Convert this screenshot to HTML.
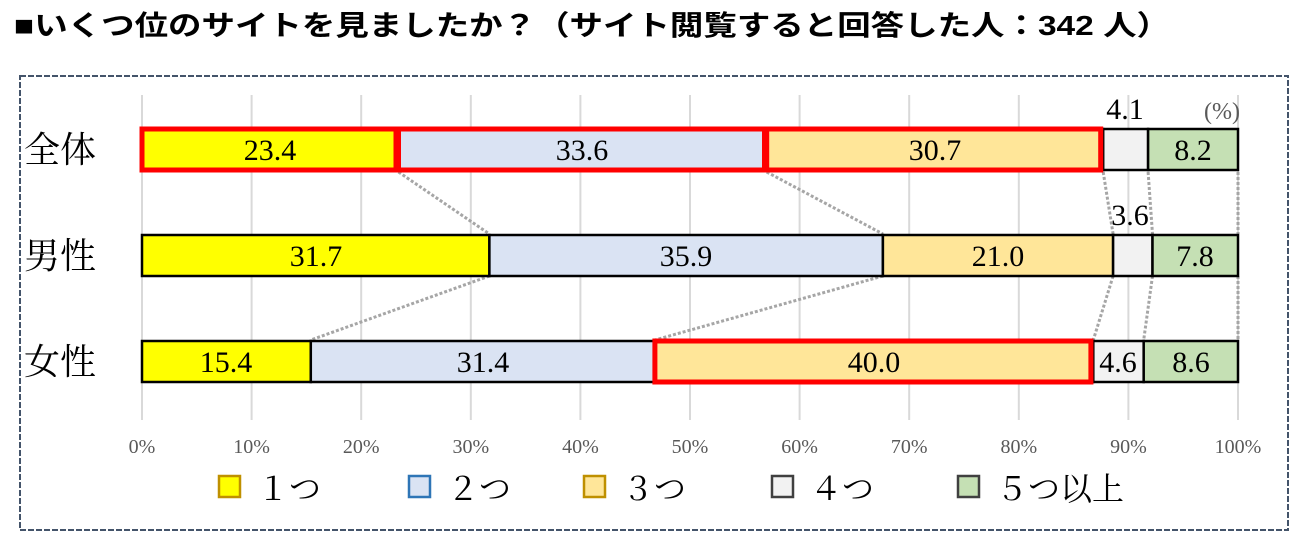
<!DOCTYPE html>
<html><head><meta charset="utf-8"><style>
body{margin:0;background:#fff;}
svg text{font-family:"Liberation Serif","Noto Serif CJK SC",serif;}
</style></head><body>
<svg width="1314" height="553" xmlns="http://www.w3.org/2000/svg">
<text x="14" y="35" font-size="28" font-weight="bold" textLength="1156" lengthAdjust="spacingAndGlyphs" style="font-family:'Liberation Sans','Noto Sans CJK JP',sans-serif">■いくつ位のサイトを見ましたか？（サイト閲覧すると回答した人：342 人）</text>
<rect x="20" y="76" width="1268" height="454" fill="none" stroke="#44546a" stroke-width="2" stroke-dasharray="6,2"/>
<g stroke="#d9d9d9" stroke-width="2">
<line x1="142" y1="95" x2="142" y2="420"/><line x1="251.6" y1="95" x2="251.6" y2="420"/><line x1="361.2" y1="95" x2="361.2" y2="420"/><line x1="470.8" y1="95" x2="470.8" y2="420"/><line x1="580.4" y1="95" x2="580.4" y2="420"/><line x1="690" y1="95" x2="690" y2="420"/><line x1="799.6" y1="95" x2="799.6" y2="420"/><line x1="909.2" y1="95" x2="909.2" y2="420"/><line x1="1018.8" y1="95" x2="1018.8" y2="420"/><line x1="1128.4" y1="95" x2="1128.4" y2="420"/><line x1="1238" y1="95" x2="1238" y2="420"/>
</g>
<g stroke="#a6a6a6" stroke-width="3" stroke-dasharray="3,2" fill="none">
<line x1="398.5" y1="172" x2="489.4" y2="234"/><line x1="766.7" y1="172" x2="882.9" y2="234"/><line x1="1103.2" y1="172" x2="1113.1" y2="234"/><line x1="1148.1" y1="172" x2="1152.5" y2="234"/><line x1="1238" y1="172" x2="1238" y2="234"/>
<line x1="489.4" y1="276" x2="310.8" y2="340"/><line x1="882.9" y1="276" x2="654.9" y2="340"/><line x1="1113.1" y1="276" x2="1093.3" y2="340"/><line x1="1152.5" y1="276" x2="1143.7" y2="340"/><line x1="1238" y1="276" x2="1238" y2="340"/>
</g>
<g stroke="#000" stroke-width="2.5">
<rect x="142" y="129" width="256.5" height="41" fill="#ffff00"/>
<rect x="398.5" y="129" width="368.2" height="41" fill="#dae3f3"/>
<rect x="766.7" y="129" width="336.5" height="41" fill="#ffe699"/>
<rect x="1103.2" y="129" width="44.9" height="41" fill="#f2f2f2"/>
<rect x="1148.1" y="129" width="89.9" height="41" fill="#c5e0b4"/>
<rect x="142" y="235" width="347.4" height="41" fill="#ffff00"/>
<rect x="489.4" y="235" width="393.5" height="41" fill="#dae3f3"/>
<rect x="882.9" y="235" width="230.2" height="41" fill="#ffe699"/>
<rect x="1113.1" y="235" width="39.4" height="41" fill="#f2f2f2"/>
<rect x="1152.5" y="235" width="85.5" height="41" fill="#c5e0b4"/>
<rect x="142" y="341" width="168.8" height="41" fill="#ffff00"/>
<rect x="310.8" y="341" width="344.1" height="41" fill="#dae3f3"/>
<rect x="654.9" y="341" width="438.4" height="41" fill="#ffe699"/>
<rect x="1093.3" y="341" width="50.4" height="41" fill="#f2f2f2"/>
<rect x="1143.7" y="341" width="94.3" height="41" fill="#c5e0b4"/>
</g>
<g stroke="#ff0000" stroke-width="5" fill="none">
<rect x="142" y="129" width="254" height="41"/>
<rect x="398.5" y="129" width="366" height="41"/>
<rect x="766.7" y="129" width="334" height="41"/>
<rect x="654.9" y="341" width="436" height="41"/>
</g>
<g font-size="30" text-anchor="middle">
<text x="270" y="160">23.4</text><text x="582" y="160">33.6</text><text x="935" y="160">30.7</text><text x="1125" y="119">4.1</text><text x="1193" y="160">8.2</text>
<text x="316" y="266">31.7</text><text x="686" y="266">35.9</text><text x="998" y="266">21.0</text><text x="1130" y="225">3.6</text><text x="1195" y="266">7.8</text>
<text x="226" y="372">15.4</text><text x="483" y="372">31.4</text><text x="874" y="372">40.0</text><text x="1118" y="372">4.6</text><text x="1191" y="372">8.6</text>
</g>
<text x="1222" y="119" font-size="24" fill="#595959" text-anchor="middle">(%)</text>
<g font-size="36"><text x="24" y="162">全体</text><text x="24" y="268">男性</text><text x="24" y="374">女性</text></g>
<g font-size="20" fill="#595959" text-anchor="middle">
<text x="142" y="453">0%</text><text x="251.6" y="453">10%</text><text x="361.2" y="453">20%</text><text x="470.8" y="453">30%</text><text x="580.4" y="453">40%</text><text x="690" y="453">50%</text><text x="799.6" y="453">60%</text><text x="909.2" y="453">70%</text><text x="1018.8" y="453">80%</text><text x="1128.4" y="453">90%</text><text x="1238" y="453">100%</text>
</g>
<g stroke-width="2.5">
<rect x="219" y="476" width="21" height="21" fill="#ffff00" stroke="#bf9000"/>
<rect x="409" y="476" width="21" height="21" fill="#dae3f3" stroke="#2e75b6"/>
<rect x="584" y="476" width="21" height="21" fill="#ffe699" stroke="#bf9000"/>
<rect x="772" y="476" width="21" height="21" fill="#f2f2f2" stroke="#404040"/>
<rect x="958" y="476" width="21" height="21" fill="#c5e0b4" stroke="#404040"/>
</g>
<g font-size="32">
<text x="257" y="500">１つ</text><text x="447" y="500">２つ</text><text x="622" y="500">３つ</text><text x="810" y="500">４つ</text><text x="996" y="500">５つ以上</text>
</g>
</svg>
</body></html>
